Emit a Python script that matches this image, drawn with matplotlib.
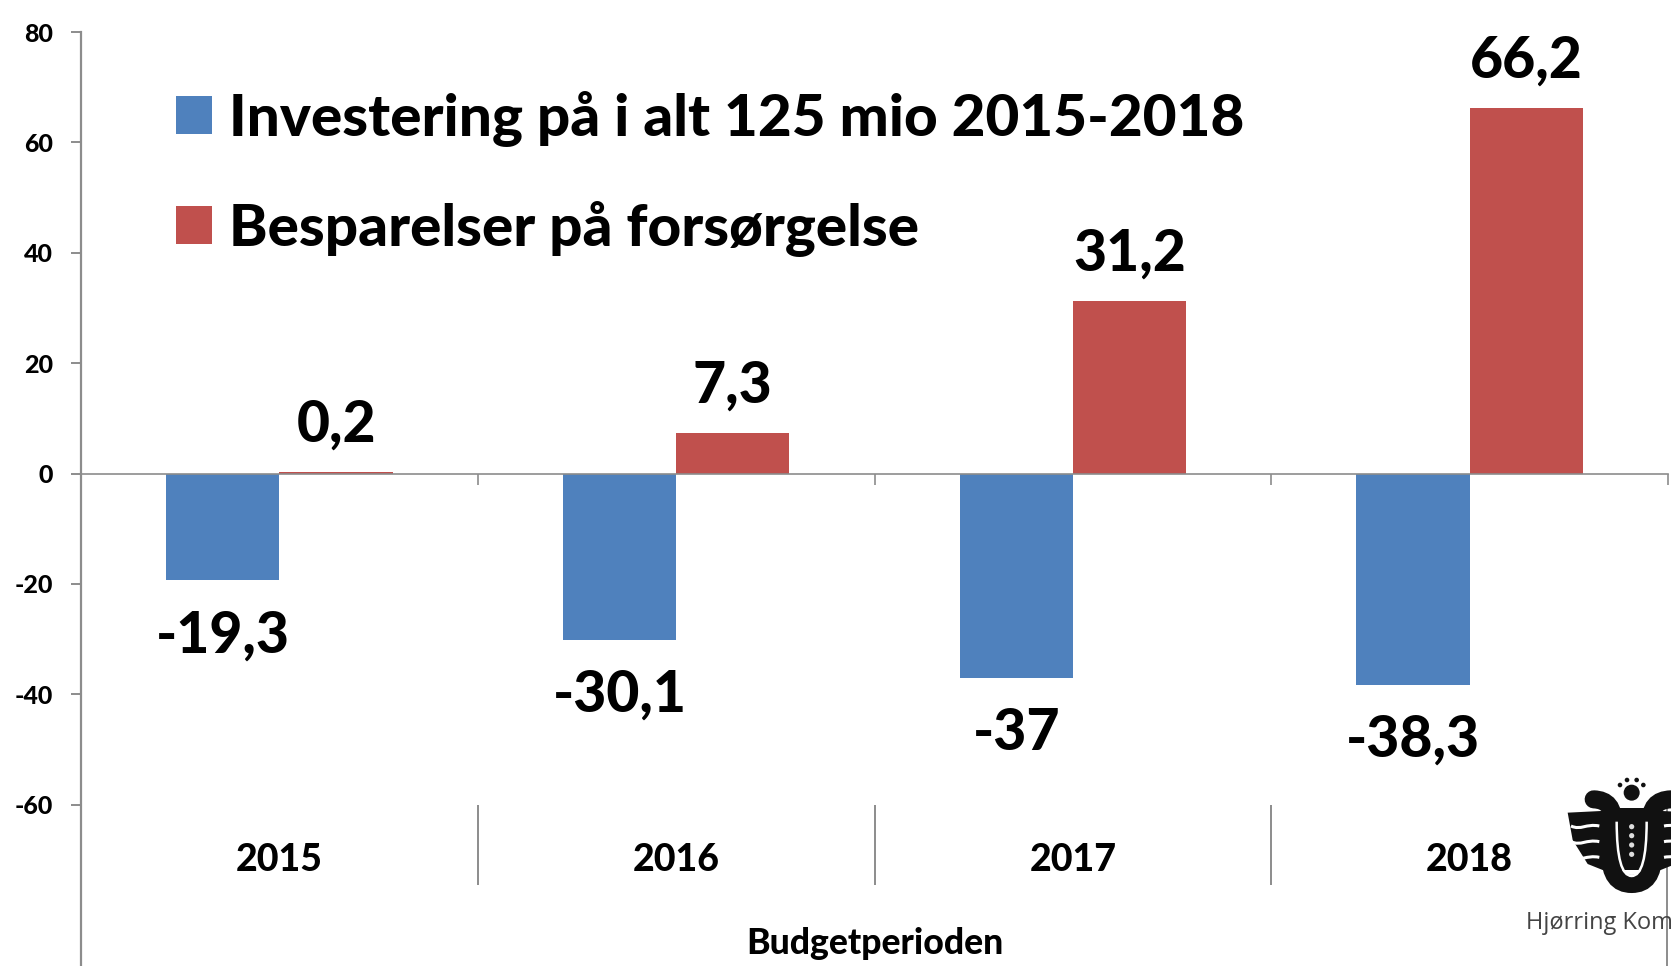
import numpy as np
import matplotlib
matplotlib.use("Agg")
import matplotlib.pyplot as plt
from matplotlib.path import Path
from matplotlib.patches import PathPatch, Polygon, Circle

years = ["2015", "2016", "2017", "2018"]
investering = [-19.3, -30.1, -37, -38.3]
besparelser = [0.2, 7.3, 31.2, 66.2]
invest_labels = ["-19,3", "-30,1", "-37", "-38,3"]
bespar_labels = ["0,2", "7,3", "31,2", "66,2"]
legend_names = ["Investering på i alt 125 mio 2015-2018", "Besparelser på forsørgelse"]
yticks = [-60, -40, -20, 0, 20, 40, 60, 80]

W, H = 1671, 966
blue = "#4F81BD"
red = "#C0504D"
grey = "#8C8C8C"

plt.rcParams["font.family"] = ["Lato", "DejaVu Sans"]
plt.rcParams["font.weight"] = "black"
plt.rcParams["axes.unicode_minus"] = False

fig = plt.figure(figsize=(W / 100, H / 100), dpi=100)
y0 = 473.5
per_unit = 5.52
ax = fig.add_axes([81 / W, 0, (1668 - 81) / W, 1 - 32 / H])
ax.set_xlim(0, 4)
ax.set_ylim((y0 - H) / per_unit, 80)

x = np.arange(len(years)) + 0.5
width = 1 / 3.5
b1 = ax.bar(x - width / 2, investering, width, color=blue, label=legend_names[0])
b2 = ax.bar(x + width / 2, besparelser, width, color=red, label=legend_names[1])

for xi, v, s in zip(x - width / 2, investering, invest_labels):
    ax.annotate(s, (xi, v), xytext=(0, -40), textcoords="offset points",
                ha="center", va="center", fontsize=41, color="black")
for xi, v, s in zip(x + width / 2, besparelser, bespar_labels):
    ax.annotate(s, (xi, v), xytext=(0, 34), textcoords="offset points",
                ha="center", va="center", fontsize=41, color="black")

for s in ["top", "right"]:
    ax.spines[s].set_visible(False)
ax.spines["left"].set_color(grey)
ax.spines["left"].set_linewidth(1.6)
ax.spines["bottom"].set_position(("data", 0))
ax.spines["bottom"].set_color(grey)
ax.spines["bottom"].set_linewidth(1.2)

ax.set_yticks(yticks)
ax.tick_params(axis="y", length=7, width=1.4, color=grey, pad=13, labelsize=18)
ax.set_xticks(np.arange(1, 5))
ax.set_xticklabels([])
ax.tick_params(axis="x", which="major", length=8, width=1.2, color=grey)
ax.set_xticks(x, minor=True)
ax.set_xticklabels(years, minor=True, fontsize=27)
ax.tick_params(axis="x", which="minor", length=0, pad=266)

# category separators below the plot
ax.vlines([1, 2, 3], -60, -74.5, color=grey, lw=1.4)
ax.vlines(3.998, -60, ax.get_ylim()[0], color=grey, lw=1.4)

ax.set_xlabel("Budgetperioden", fontsize=25.6, fontweight="black")
ax.xaxis.set_label_coords(0.5, 39 / (H - 32))

ax.legend(handles=[b1, b2], loc="upper left", bbox_to_anchor=(0.06, 0.937),
          frameon=False, fontsize=42, handlelength=0.62, handleheight=0.62,
          handletextpad=0.29, labelspacing=0.92, borderpad=0, borderaxespad=0)

# logo, in pixels of the figure
lg = fig.add_axes([0, 0, 1, 1], zorder=5)
lg.set_xlim(0, W)
lg.set_ylim(H, 0)
lg.axis("off")
lg.patch.set_alpha(0)


def zx(a):
    return 1471 + a / 3


def zy(b):
    return 740 + b / 3


def zp(pts):
    return [(zx(a), zy(b)) for a, b in pts]


C3, C4, L2, M = Path.CURVE3, Path.CURVE4, Path.LINETO, Path.MOVETO
for dx, sign in [(0, 1), (964, -1)]:
    wing = [(290, 218), (410, 212), (420, 400), (350, 372), (305, 300)]
    lg.add_patch(Polygon(zp([(dx + sign * a, b) for a, b in wing]), closed=True, fc="#111111", ec="none"))
    for yy in [258, 305, 352]:
        pts = zp([(dx + sign * a, b) for a, b in [(300, yy), (330, yy + 14), (345, yy - 8), (385, yy)]])
        lg.add_patch(PathPatch(Path(pts, [M, C4, C4, C4]), fc="none", ec="white", lw=2.2))

outer = zp([(368, 178), (430, 180), (425, 250), (418, 345), (418, 432), (482, 432),
            (546, 432), (546, 345), (540, 250), (535, 180), (600, 178)])
lg.add_patch(PathPatch(Path(outer, [M, C3, C3, L2, C3, C3, C3, C3, L2, C3, C3]),
                       fc="none", ec="#111111", lw=13, capstyle="round"))
lg.add_patch(Polygon(zp([(440, 205), (525, 205), (525, 390), (440, 390)]), closed=True, fc="#111111", ec="none"))
inner = zp([(437, 245), (437, 408), (482, 408), (527, 408), (527, 245)])
lg.add_patch(PathPatch(Path(inner, [M, C3, C3, C3, C3]), fc="none", ec="white", lw=1.8))
for yy in [260, 287, 315, 343]:
    lg.add_patch(Circle((zx(482), zy(yy)), 2.6, fc="#dddddd", ec="none"))
lg.add_patch(Circle((zx(482), zy(158)), 8, fc="#111111", ec="none"))
for a, b in [(447, 135), (468, 120), (497, 120), (517, 135)]:
    lg.add_patch(Circle((zx(a), zy(b)), 2.3, fc="#111111", ec="none"))
lg.text(zx(165), zy(550), "Hjørring Kom", fontsize=17, fontweight="normal", color="#444444",
        ha="left", va="center", family="Open Sans")

fig.savefig("out.png", dpi=100)
